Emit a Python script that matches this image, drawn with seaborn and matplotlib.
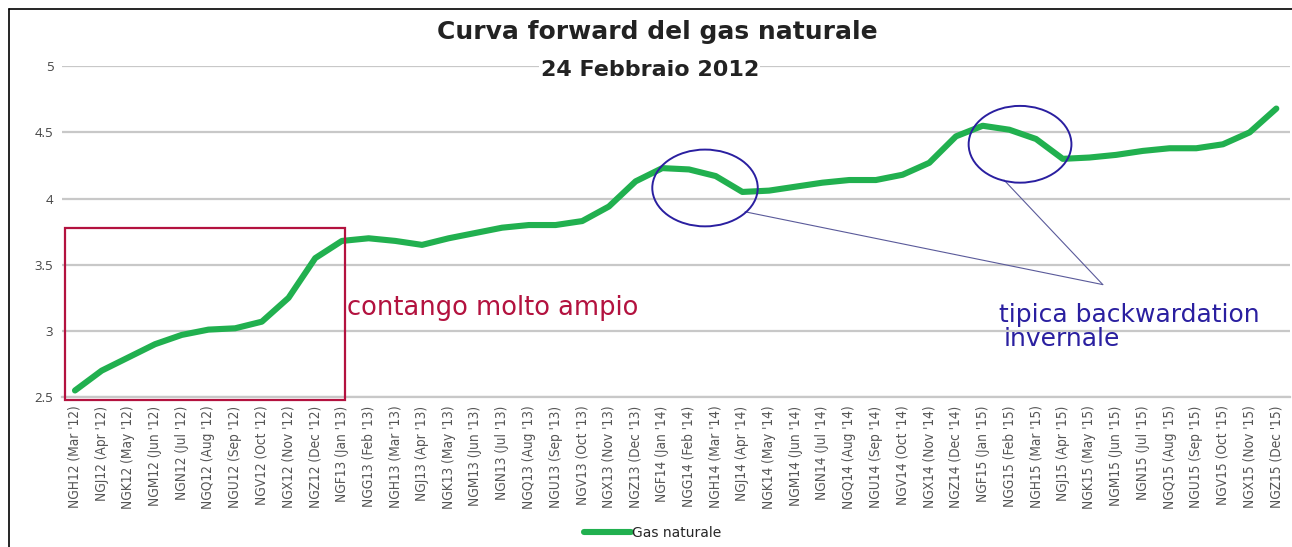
#!/usr/bin/env python3

"""
Curva forward del gas naturale (24 Febbraio 2012).
"""

import pandas as pd
import seaborn as sns
import matplotlib.pyplot as plt
from matplotlib.lines import Line2D
from matplotlib.patches import Ellipse, Rectangle

contracts = [
    "NGH12", "NGJ12", "NGK12", "NGM12", "NGN12", "NGQ12", "NGU12", "NGV12", "NGX12", "NGZ12",
    "NGF13", "NGG13", "NGH13", "NGJ13", "NGK13", "NGM13", "NGN13", "NGQ13", "NGU13", "NGV13",
    "NGX13", "NGZ13",
    "NGF14", "NGG14", "NGH14", "NGJ14", "NGK14", "NGM14", "NGN14", "NGQ14", "NGU14", "NGV14",
    "NGX14", "NGZ14",
    "NGF15", "NGG15", "NGH15", "NGJ15", "NGK15", "NGM15", "NGN15", "NGQ15", "NGU15", "NGV15",
    "NGX15", "NGZ15",
]
months = [
    "Mar '12", "Apr '12", "May '12", "Jun '12", "Jul '12", "Aug '12", "Sep '12", "Oct '12",
    "Nov '12", "Dec '12",
    "Jan '13", "Feb '13", "Mar '13", "Apr '13", "May '13", "Jun '13", "Jul '13", "Aug '13",
    "Sep '13", "Oct '13", "Nov '13", "Dec '13",
    "Jan '14", "Feb '14", "Mar '14", "Apr '14", "May '14", "Jun '14", "Jul '14", "Aug '14",
    "Sep '14", "Oct '14", "Nov '14", "Dec '14",
    "Jan '15", "Feb '15", "Mar '15", "Apr '15", "May '15", "Jun '15", "Jul '15", "Aug '15",
    "Sep '15", "Oct '15", "Nov '15", "Dec '15",
]
prices = [
    2.55, 2.70, 2.80, 2.90, 2.97, 3.01, 3.02, 3.07, 3.25, 3.55,
    3.68, 3.70, 3.68, 3.65, 3.70, 3.74, 3.78, 3.80, 3.80, 3.83, 3.94, 4.13,
    4.23, 4.22, 4.17, 4.05, 4.06, 4.09, 4.12, 4.14, 4.14, 4.18, 4.27, 4.47,
    4.55, 4.52, 4.45, 4.30, 4.31, 4.33, 4.36, 4.38, 4.38, 4.41, 4.50, 4.68,
]

GREEN = "#21b04f"
RED = "#b3123f"
BLUE = "#2a1fa0"


def main():
    labels = [f"{c} ({m})" for c, m in zip(contracts, months)]
    df = pd.DataFrame({"contract": labels, "price": prices})
    df["pos"] = range(len(df))

    sns.set_style("white")
    plt.rcParams["font.family"] = ["Open Sans", "DejaVu Sans"]

    fig = plt.figure(figsize=(12.92, 5.47), dpi=100)
    ax = fig.add_axes([0.0477, 0.274, 0.9505, 0.605])

    sns.lineplot(data=df, x="pos", y="price", color=GREEN, linewidth=4.4,
                 ax=ax, legend=False, solid_capstyle="round")

    ax.set_xlim(-0.5, len(df) - 0.5)
    ax.set_ylim(2.5, 5)
    ax.set_yticks([2.5, 3, 3.5, 4, 4.5, 5])
    ax.set_yticklabels(["2.5", "3", "3.5", "4", "4.5", "5"], fontsize=9.5, color="#444444")
    ax.set_xticks(df["pos"])
    ax.set_xticklabels(df["contract"], rotation=90, fontsize=9.8, color="#555555",
                       family=["DejaVu Sans"], fontstretch="condensed")
    ax.tick_params(axis="both", length=0, pad=6)
    ax.set_xlabel("")
    ax.set_ylabel("")
    ax.yaxis.grid(True, color="#c8c8c8", linewidth=1.6)
    ax.set_axisbelow(True)
    for side in ["top", "right", "left"]:
        ax.spines[side].set_visible(False)
    ax.spines["bottom"].set_color("#c8c8c8")
    ax.spines["bottom"].set_linewidth(1.6)

    # annotations
    ax.add_patch(Rectangle((-0.37, 2.48), 10.47, 1.30, fill=False, edgecolor=RED,
                           linewidth=1.6, clip_on=False, zorder=5))
    ax.text(10.2, 3.17, "contango molto ampio", color=RED, fontsize=18.5,
            family=["DejaVu Sans"], ha="left", va="center")
    ax.add_patch(Ellipse((23.6, 4.08), 3.95, 0.58, fill=False, edgecolor=BLUE,
                         linewidth=1.4, zorder=5))
    ax.add_patch(Ellipse((35.4, 4.41), 3.85, 0.58, fill=False, edgecolor=BLUE,
                         linewidth=1.4, zorder=5))
    ax.plot([25.1, 38.5], [3.90, 3.35], color="#5a5a9a", linewidth=0.8)
    ax.plot([34.8, 38.5], [4.14, 3.35], color="#5a5a9a", linewidth=0.8)
    ax.text(34.6, 3.12, "tipica backwardation", color=BLUE, fontsize=18,
            family=["DejaVu Sans"], ha="left", va="center")
    ax.text(34.8, 2.94, "invernale", color=BLUE, fontsize=18,
            family=["DejaVu Sans"], ha="left", va="center")

    fig.text(0.509, 0.942, "Curva forward del gas naturale", ha="center", va="center",
             fontsize=18, fontweight="bold", color="#222222", family=["DejaVu Sans"])
    fig.text(0.503, 0.872, "24 Febbraio 2012", ha="center", va="center",
             fontsize=16, fontweight="semibold", color="#222222", family=["DejaVu Sans"],
             bbox=dict(facecolor="white", edgecolor="none", pad=1))

    handles = [Line2D([0], [0], color=GREEN, linewidth=4.4)]
    fig.legend(handles, ["Gas naturale"], loc="center", bbox_to_anchor=(0.505, 0.025),
               frameon=False, prop={"family": "DejaVu Sans", "size": 10},
               handlelength=3.4, handletextpad=0.1)

    # frame lines (top and left)
    fig.add_artist(Line2D([9 / 1292, 1], [1 - 9 / 547, 1 - 9 / 547], color="black",
                          linewidth=1.2, transform=fig.transFigure))
    fig.add_artist(Line2D([9 / 1292, 9 / 1292], [0, 1 - 9 / 547], color="black",
                          linewidth=1.2, transform=fig.transFigure))

    fig.savefig("out.png", dpi=100)


if __name__ == "__main__":
    main()
